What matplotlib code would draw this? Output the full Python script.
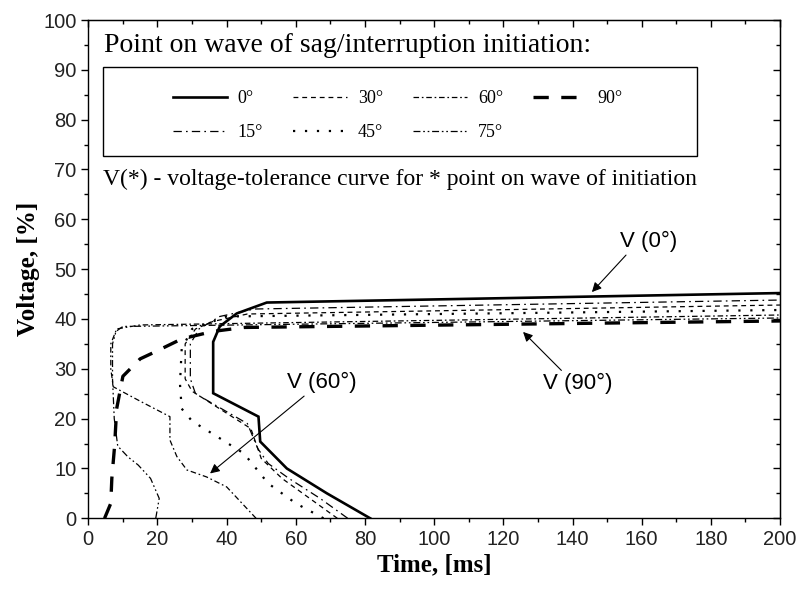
import matplotlib
matplotlib.use("Agg")
import matplotlib.pyplot as plt
from matplotlib.patches import Rectangle
from matplotlib.ticker import MultipleLocator

plt.rcParams["lines.scale_dashes"] = False

SERIF = ["Liberation Serif", "DejaVu Serif"]
SANS = ["Liberation Sans", "DejaVu Sans"]

# voltage-tolerance curves, time [ms] vs voltage [%]
t_0 = [81.5, 69, 57.4, 49.7, 49.2, 36.1, 36.1, 38, 42.9, 51.6, 200]
v_0 = [0, 5, 10, 15.4, 20.4, 25.1, 35.4, 38.5, 41.1, 43.3, 45.2]

t_15 = [75, 67, 58, 52, 49, 46, 31, 29.5, 29.5, 32, 38, 48, 200]
v_15 = [0, 4, 8, 11, 14, 19, 25, 28, 35, 38, 40.5, 42, 43.8]

t_30 = [72, 64, 56, 50, 47, 30, 28, 28, 31, 36, 46, 200]
v_30 = [0, 4, 8, 12, 18, 25.5, 28, 35, 38, 39.5, 41, 42.8]

t_45 = [68, 60, 52, 45, 37, 30, 27, 26.5, 27, 30, 40, 200]
v_45 = [0, 3, 7, 13, 16.5, 19.5, 22, 27, 34, 38, 40.5, 41.8]

t_60 = [48.5, 40, 34.2, 28.5, 25.6, 23.6, 23.6, 15, 7.2, 6.5, 6.5, 8.2, 15, 200]
v_60 = [0, 6.3, 8.3, 9.7, 12.4, 15.7, 20.4, 23.5, 26.4, 30, 35, 38, 38.8, 40.8]

t_75 = [19.5, 20.5, 18, 14.4, 11.5, 8.5, 7.5, 7, 7, 8, 10, 200]
v_75 = [0, 4, 8, 10.7, 12.3, 14.5, 20, 28, 35, 37.5, 38.5, 40.2]

t_90 = [4.7, 6.5, 6.8, 7.6, 8.2, 10, 15, 19, 27, 36, 45, 200]
v_90 = [0, 3, 8, 14.5, 22, 28.5, 32, 33.3, 36, 37.5, 38.3, 39.6]

curves = [
    ("0°", t_0, v_0, 1.9, None),
    ("15°", t_15, v_15, 0.9, (6, 3, 1.2, 3)),
    ("30°", t_30, v_30, 0.9, (3.5, 2.8)),
    ("45°", t_45, v_45, 1.6, (1.6, 7)),
    ("60°", t_60, v_60, 0.9, (4, 2, 1.2, 2)),
    ("75°", t_75, v_75, 0.9, (5, 2, 1.2, 2, 1.2, 2)),
    ("90°", t_90, v_90, 2.4, (11, 9)),
]

fig = plt.figure(figsize=(8.05, 5.92), dpi=100)
ax = fig.add_axes([0.1097, 0.1245, 0.8593, 0.8417])

handles = []
for label, t, v, lw, dash in curves:
    ln, = ax.plot(t, v, color="black", lw=lw, label=label,
                  solid_joinstyle="miter")
    if dash is not None:
        ln.set_dashes(dash)
    handles.append(ln)

ax.set_xlim(0, 200)
ax.set_ylim(0, 100)
ax.xaxis.set_major_locator(MultipleLocator(20))
ax.xaxis.set_minor_locator(MultipleLocator(10))
ax.yaxis.set_major_locator(MultipleLocator(10))
ax.yaxis.set_minor_locator(MultipleLocator(5))
for sp in ax.spines.values():
    sp.set_linewidth(1.0)
ax.tick_params(which="both", direction="out", top=False, right=False,
               width=1.0, colors="black", labelcolor="#222222")
ax.tick_params(which="major", length=5, pad=3.5)
ax.tick_params(which="minor", length=3)
for lab in ax.get_xticklabels() + ax.get_yticklabels():
    lab.set_family(SANS)
    lab.set_fontsize(14.5)

# inward ticks on top and right
sec_x = ax.secondary_xaxis("top")
sec_x.xaxis.set_major_locator(MultipleLocator(20))
sec_x.xaxis.set_minor_locator(MultipleLocator(10))
sec_x.tick_params(which="both", direction="in", labeltop=False, width=1.0)
sec_x.tick_params(which="major", length=5)
sec_x.tick_params(which="minor", length=3)
sec_y = ax.secondary_yaxis("right")
sec_y.yaxis.set_major_locator(MultipleLocator(10))
sec_y.yaxis.set_minor_locator(MultipleLocator(5))
sec_y.tick_params(which="both", direction="in", labelright=False, width=1.0)
sec_y.tick_params(which="major", length=5)
sec_y.tick_params(which="minor", length=3)

ax.set_xlabel("Time, [ms]", family=SERIF, fontsize=18, fontweight="bold",
              labelpad=3)
ax.set_ylabel("Voltage, [%]", family=SERIF, fontsize=18, fontweight="bold",
              labelpad=2)

# legend block
ax.text(4.6, 94.8, "Point on wave of sag/interruption initiation:",
        family=SERIF, fontsize=20, ha="left", va="center")
ax.add_patch(Rectangle((4.3, 72.7), 171.7, 17.8, fill=True, facecolor="white",
                       edgecolor="black", lw=1.0, zorder=4))
leg = ax.legend(handles=handles, ncol=4, loc="center",
                bbox_to_anchor=(89.5, 80.8), bbox_transform=ax.transData,
                frameon=False, prop={"family": SERIF, "size": 13},
                handlelength=3.0, handletextpad=0.6, columnspacing=1.65,
                labelspacing=0.95, borderpad=0)
leg.set_zorder(5)
ax.text(4.3, 68.0, "V(*) - voltage-tolerance curve for * point on wave of initiation",
        family=SERIF, fontsize=17, ha="left", va="center")

arrow = dict(arrowstyle="-|>", color="black", lw=0.8, mutation_scale=14,
             shrinkA=0, shrinkB=0)
ax.annotate("V (0°)", xy=(145.6, 45.4), xytext=(162, 55.5),
            family=SANS, fontsize=16, ha="center", va="center",
            arrowprops=dict(arrow, relpos=(0.15, 0.0)))
ax.annotate("V (90°)", xy=(125.7, 37.4), xytext=(141.6, 27),
            family=SANS, fontsize=16, ha="center", va="center",
            arrowprops=dict(arrow, relpos=(0.3, 1.0)))
ax.annotate("V (60°)", xy=(35.2, 9.0), xytext=(67.4, 27.2),
            family=SANS, fontsize=16, ha="center", va="center",
            arrowprops=dict(arrow, relpos=(0.3, 0.0)))

fig.savefig("out.png", dpi=100)
